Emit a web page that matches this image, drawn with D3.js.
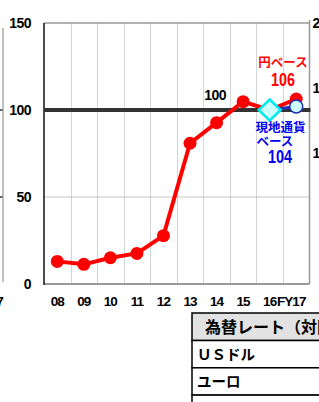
<!DOCTYPE html>
<html>
<head>
<meta charset="utf-8">
<script src="https://cdn.jsdelivr.net/npm/d3@7"></script>
<style>
  body { margin: 0; background: #fff; }
  svg { display: block; }
  .num { font-family: "Liberation Sans", Arial, sans-serif; font-weight: bold; }
  .jp { font-family: "Noto Sans CJK JP", "Noto Sans", sans-serif; font-weight: bold; }
</style>
</head>
<body>
<div id="container"></div>
<script>
const WIDTH = 319;
const HEIGHT = 402;
const LEFT = 44, RIGHT = 309.5, TOP = 23, BOTTOM = 284;

// data
var categories = ["08", "09", "10", "11", "12", "13", "14", "15", "16", "FY17"];
var yenBase = [13, 11.3, 15.1, 17.6, 27.8, 80.9, 92.7, 104.8, 100, 106.3];
var localCats = ["16", "FY17"];
var localBase = [100, 102];
var leftTicks = [0, 50, 100, 150];
var rightTicks = [100, 150, 200];
var baseValue = 100;
var tableRows = ["ＵＳドル", "ユーロ", "人民元"];
var tableHeader = "為替レート（対円）";

var x = d3.scaleBand().domain(categories).range([LEFT, RIGHT]).padding(0);
var y = d3.scaleLinear().domain([0, 150]).range([BOTTOM, TOP]);
var yRight = d3.scaleLinear().domain([0, 200]).range([BOTTOM, TOP]);
var cx = function (c) { return x(c) + x.bandwidth() / 2; };

var svg = d3.select("#container").append("svg")
    .attr("width", WIDTH)
    .attr("height", HEIGHT);

// narrow bold number, drawn squeezed horizontally
var narrowText = function (px, py, txt, size, color, anchor) {
    svg.append("g")
        .attr("transform", "translate(" + px + "," + py + ") scale(0.8,1)")
        .append("text").attr("class", "num")
        .attr("text-anchor", anchor || "middle")
        .attr("font-size", size).attr("fill", color || "#000")
        .text(txt);
};

// neighbouring chart, cut off at the left edge
svg.append("line")
    .attr("x1", 3).attr("x2", 3).attr("y1", 28).attr("y2", BOTTOM - 2)
    .attr("stroke", "#aaa").attr("stroke-width", 1.5);
[100, 50].forEach(function (v) {
    svg.append("line")
        .attr("x1", 0).attr("x2", 2.5).attr("y1", y(v)).attr("y2", y(v))
        .attr("stroke", "#333").attr("stroke-width", 1.5);
});
svg.append("text").attr("class", "num")
    .attr("x", 3).attr("y", 306).attr("text-anchor", "end")
    .attr("font-size", 13.5).attr("letter-spacing", -0.8).text("FY17");

// grid
svg.append("g").selectAll("line")
    .data(categories.slice(1))
    .join("line")
    .attr("x1", function (d) { return Math.round(x(d)) + 0.5; })
    .attr("x2", function (d) { return Math.round(x(d)) + 0.5; })
    .attr("y1", TOP).attr("y2", BOTTOM)
    .attr("stroke", "#d4d4d4").attr("stroke-width", 1);
svg.append("line")
    .attr("x1", LEFT).attr("x2", RIGHT).attr("y1", y(50)).attr("y2", y(50))
    .attr("stroke", "#c4c4c4").attr("stroke-width", 1);

// frame
svg.append("line").attr("x1", LEFT).attr("x2", RIGHT).attr("y1", TOP).attr("y2", TOP)
    .attr("stroke", "#999").attr("stroke-width", 1.5);
svg.append("line").attr("x1", RIGHT).attr("x2", RIGHT).attr("y1", TOP - 3).attr("y2", BOTTOM)
    .attr("stroke", "#999").attr("stroke-width", 1.5);
svg.append("line").attr("x1", LEFT).attr("x2", RIGHT).attr("y1", BOTTOM).attr("y2", BOTTOM)
    .attr("stroke", "#999").attr("stroke-width", 2);
svg.append("line").attr("x1", LEFT).attr("x2", LEFT).attr("y1", TOP).attr("y2", BOTTOM + 1)
    .attr("stroke", "#111").attr("stroke-width", 1.5);

// axes
var leftAxis = svg.append("g")
    .attr("transform", "translate(" + LEFT + ",0)")
    .call(d3.axisLeft(y).tickValues(leftTicks).tickSize(0).tickPadding(13));
var rightAxis = svg.append("g")
    .attr("transform", "translate(" + RIGHT + ",0)")
    .call(d3.axisRight(yRight).tickValues(rightTicks).tickSize(0).tickPadding(3));
var bottomAxis = svg.append("g")
    .attr("transform", "translate(0," + BOTTOM + ")")
    .call(d3.axisBottom(x).tickSize(0).tickPadding(12));
[leftAxis, rightAxis, bottomAxis].forEach(function (g) {
    g.select(".domain").remove();
    g.selectAll("text").attr("class", "num").attr("font-size", 14)
        .attr("letter-spacing", -0.5).attr("fill", "#000");
});
bottomAxis.selectAll("text")
    .attr("dx", function (d) { return d === "FY17" ? -5 : 0; })
    .attr("font-size", 13.5)
    .attr("letter-spacing", -0.9);

// base line at 100
svg.append("line")
    .attr("x1", LEFT).attr("x2", RIGHT + 1)
    .attr("y1", y(baseValue)).attr("y2", y(baseValue))
    .attr("stroke", "#333").attr("stroke-width", 4);

// yen-base series
var line = d3.line().x(function (d, i) { return cx(categories[i]); }).y(function (d) { return y(d); });
svg.append("path")
    .datum(yenBase)
    .attr("d", line)
    .attr("fill", "none").attr("stroke", "#ff0000").attr("stroke-width", 4)
    .attr("stroke-linejoin", "round");
svg.append("g").selectAll("circle")
    .data(yenBase)
    .join("circle")
    .attr("cx", function (d, i) { return cx(categories[i]); })
    .attr("cy", function (d) { return y(d); })
    .attr("r", 6.5)
    .attr("fill", "#ff0000");

// local-currency-base series
var lineLocal = d3.line().x(function (d, i) { return cx(localCats[i]); }).y(function (d) { return y(d); });
svg.append("path")
    .datum(localBase)
    .attr("d", lineLocal)
    .attr("fill", "none").attr("stroke", "#1f2fb0").attr("stroke-width", 3);
var dx0 = cx(localCats[0]), dy0 = y(localBase[0]);
svg.append("path")
    .attr("d", "M" + dx0 + "," + (dy0 - 10.5) + "L" + (dx0 + 11) + "," + dy0 +
        "L" + dx0 + "," + (dy0 + 10.5) + "L" + (dx0 - 11) + "," + dy0 + "Z")
    .attr("fill", "#ccffff").attr("stroke", "#00e8f0").attr("stroke-width", 2.5);
svg.append("circle")
    .attr("cx", cx(localCats[1])).attr("cy", y(localBase[1]))
    .attr("r", 6.5)
    .attr("fill", "#ccffff").attr("stroke", "#1f2fb0").attr("stroke-width", 1.5);

// labels
svg.append("text").attr("class", "num")
    .attr("x", cx("14") - 1.5).attr("y", y(baseValue) - 10)
    .attr("text-anchor", "middle").attr("font-size", 14)
    .attr("letter-spacing", -0.5).text("100");
svg.append("text").attr("class", "jp")
    .attr("x", x("FY17")).attr("y", 67)
    .attr("text-anchor", "middle").attr("font-size", 12.5).attr("fill", "#ff0000").text("円ベース");
narrowText(x("FY17"), 86, "106", 18, "#ff0000");
svg.append("text").attr("class", "jp")
    .attr("x", x("16") - 1).attr("y", 132)
    .attr("font-size", 12.5).attr("fill", "#0000ee").text("現地通貨");
svg.append("text").attr("class", "jp")
    .attr("x", x("16")).attr("y", 146)
    .attr("font-size", 12.5).attr("fill", "#0000ee").text("ベース");
narrowText(x("FY17") - 3, 163, "104", 18, "#0000ee");

// table below the chart
var TX = 192, TY = 313, HEAD_H = 27.5, ROW_H = 27.3;
svg.append("rect")
    .attr("x", TX).attr("y", TY).attr("width", 200).attr("height", HEAD_H)
    .attr("fill", "#e2e2e2").attr("stroke", "#000").attr("stroke-width", 1.5);
svg.append("text").attr("class", "jp")
    .attr("x", TX + 13).attr("y", TY + 20).attr("font-size", 16).text(tableHeader);
svg.append("g").selectAll("rect")
    .data(tableRows)
    .join("rect")
    .attr("x", TX).attr("y", function (d, i) { return TY + HEAD_H + i * ROW_H; })
    .attr("width", 200).attr("height", ROW_H)
    .attr("fill", "#fff").attr("stroke", "#000").attr("stroke-width", 1.5);
svg.append("g").selectAll("text")
    .data(tableRows)
    .join("text")
    .attr("class", "jp")
    .attr("x", TX + 5)
    .attr("y", function (d, i) { return TY + HEAD_H + i * ROW_H + 19; })
    .attr("font-size", 14.5)
    .text(function (d) { return d; });
</script>
</body>
</html>
